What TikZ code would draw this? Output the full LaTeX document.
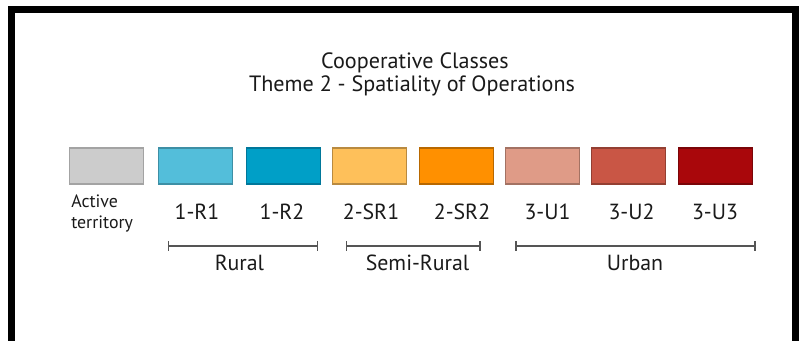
\documentclass[tikz,border=0pt]{standalone}
\usepackage{fontspec}
\setmainfont{PT Sans}
\definecolor{txt}{HTML}{1A1A1A}
\definecolor{cGray}{HTML}{CCCCCC}\definecolor{dGray}{HTML}{A3A3A3}
\definecolor{cR1}{HTML}{53BEDA}\definecolor{dR1}{HTML}{3D8FA5}
\definecolor{cR2}{HTML}{009FC7}\definecolor{dR2}{HTML}{00779A}
\definecolor{cS1}{HTML}{FEC05A}\definecolor{dS1}{HTML}{B98A40}
\definecolor{cS2}{HTML}{FF9000}\definecolor{dS2}{HTML}{B86800}
\definecolor{cU1}{HTML}{DF9B87}\definecolor{dU1}{HTML}{A37263}
\definecolor{cU2}{HTML}{C95645}\definecolor{dU2}{HTML}{933F32}
\definecolor{cU3}{HTML}{A9070B}\definecolor{dU3}{HTML}{7A0508}
\definecolor{brk}{HTML}{555555}
\tikzset{
  swatch/.style={rectangle, inner sep=0pt, minimum width=55.5pt, minimum height=27pt, line width=0.8pt},
  lab/.style={inner sep=0pt, anchor=base, font=\fontsize{16.4}{19}\selectfont, text=txt},
  ttl/.style={inner sep=0pt, anchor=base, font=\fontsize{16.6}{19}\selectfont, text=txt},
  small/.style={inner sep=0pt, anchor=base west, font=\fontsize{13.4}{16}\selectfont, text=txt},
  brkline/.style={draw=brk, line width=1.1pt},
}
\begin{document}
\begin{tikzpicture}[x=0.75pt,y=-0.75pt]
\useasboundingbox (0,0) rectangle (800,340);
\fill[white] (0,0) rectangle (800,340);
% frame
\draw[line width=5.25pt] (11.5,9.5) rectangle (795.5,345);
% title
\node[ttl] (t1) at (415,68) {Cooperative Classes};
\node[ttl] (t2) at (412,91.5) {Theme 2 - Spatiality of Operations};
% swatches
\node[swatch, fill=cGray, draw=dGray] (b0) at (106.5,166) {};
\node[swatch, fill=cR1, draw=dR1] (b1) at (195.3,166) {};
\node[swatch, fill=cR2, draw=dR2] (b2) at (283.3,166) {};
\node[swatch, fill=cS1, draw=dS1] (b3) at (369.8,166) {};
\node[swatch, fill=cS2, draw=dS2] (b4) at (456.2,166) {};
\node[swatch, fill=cU1, draw=dU1] (b5) at (542.5,166) {};
\node[swatch, fill=cU2, draw=dU2] (b6) at (628.8,166) {};
\node[swatch, fill=cU3, draw=dU3] (b7) at (715.5,166) {};
% labels
\node[small] (l0a) at (71,207.3) {Active};
\node[small] (l0b) at (71,228.3) {territory};
\node[lab] (l1) at (197,219.3) {1-R1};
\node[lab] (l2) at (282,219.3) {1-R2};
\node[lab] (l3) at (371,219.3) {2-SR1};
\node[lab] (l4) at (462,219.3) {2-SR2};
\node[lab] (l5) at (547.5,219.3) {3-U1};
\node[lab] (l6) at (631.5,219.3) {3-U2};
\node[lab] (l7) at (715,219.3) {3-U3};
% brackets
\coordinate (r1) at (168.3,246);\coordinate (r2) at (317.7,246);
\coordinate (s1) at (346.7,246);\coordinate (s2) at (480,246);
\coordinate (u1) at (516,246);\coordinate (u2) at (755,246);
\draw[brkline] (r1) -- (r2);
\draw[brkline] (s1) -- (s2);
\draw[brkline] (u1) -- (u2);
\foreach \c in {r1,r2,s1,s2,u1,u2}{\draw[draw=brk, line width=1pt] ([yshift=3.5pt]\c) -- ([yshift=-3.5pt]\c);}
\node[lab] (g1) at (239.5,270) {Rural};
\node[lab] (g2) at (417.5,270) {Semi-Rural};
\node[lab] (g3) at (635,270) {Urban};
\end{tikzpicture}
\end{document}
